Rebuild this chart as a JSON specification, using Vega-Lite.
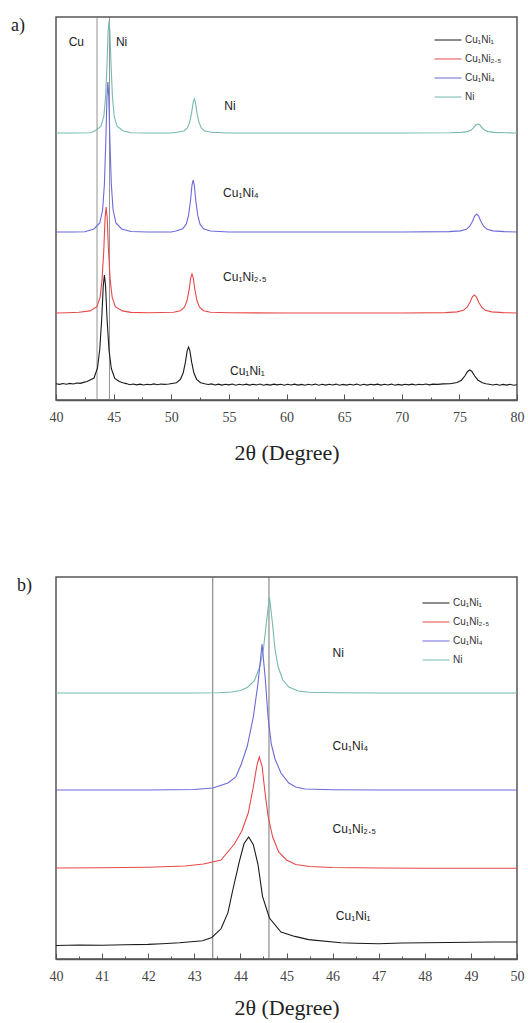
{
"$schema": "https://vega.github.io/schema/vega-lite/v6.json",
"padding": {"left": 10, "top": 15, "right": 6, "bottom": 2},
"background": "white",
"spacing": 111,
"resolve": {"legend": {"color": "independent"}, "scale": {"x": "independent", "y": "independent"}},
"config": {"view": {"stroke": "#555", "strokeWidth": 1.5}, "font": "Liberation Sans"},
"datasets": {
"a_refs": [{"x": 43.56}, {"x": 44.64}],
"b_refs": [{"x": 43.4}, {"x": 44.62}],
"a_text": [
{"x": 41.1, "y": 358, "t": "Cu"}, {"x": 45.2, "y": 358, "t": "Ni"},
{"x": 54.6, "y": 294, "t": "Ni"}, {"x": 54.5, "y": 207, "t": "Cu₁Ni₄"},
{"x": 54.5, "y": 123, "t": "Cu₁Ni₂.₅"}, {"x": 55.1, "y": 29, "t": "Cu₁Ni₁"}],
"b_text": [
{"x": 46.0, "y": 306, "t": "Ni"}, {"x": 46.0, "y": 213, "t": "Cu₁Ni₄"},
{"x": 46.0, "y": 130, "t": "Cu₁Ni₂.₅"}, {"x": 46.07, "y": 43, "t": "Cu₁Ni₁"}],
"a_lines": [
{"s":"Ni","x":40,"y":267},{"s":"Ni","x":41.5,"y":267},{"s":"Ni","x":43,"y":267.2},{"s":"Ni","x":43.4,"y":269.2},{"s":"Ni","x":43.9,"y":273.7},{"s":"Ni","x":44.15,"y":283.8},{"s":"Ni","x":44.3,"y":302.8},{"s":"Ni","x":44.42,"y":334.2},{"s":"Ni","x":44.52,"y":367.8},{"s":"Ni","x":44.6,"y":379},{"s":"Ni","x":44.68,"y":367.8},{"s":"Ni","x":44.78,"y":334.2},{"s":"Ni","x":44.9,"y":302.8},{"s":"Ni","x":45.05,"y":283.8},{"s":"Ni","x":45.3,"y":273.7},{"s":"Ni","x":45.8,"y":269.2},{"s":"Ni","x":46.5,"y":267.3},{"s":"Ni","x":48,"y":267},{"s":"Ni","x":50,"y":267},{"s":"Ni","x":50.5,"y":267.7},{"s":"Ni","x":51.1,"y":269},{"s":"Ni","x":51.4,"y":272.1},{"s":"Ni","x":51.6,"y":277.9},{"s":"Ni","x":51.77,"y":287.4},{"s":"Ni","x":51.9,"y":297.6},{"s":"Ni","x":52.0,"y":301},{"s":"Ni","x":52.1,"y":297.6},{"s":"Ni","x":52.23,"y":287.4},{"s":"Ni","x":52.4,"y":277.9},{"s":"Ni","x":52.6,"y":272.1},{"s":"Ni","x":52.9,"y":269},{"s":"Ni","x":53.5,"y":267.7},{"s":"Ni","x":55,"y":267},{"s":"Ni","x":60,"y":267},{"s":"Ni","x":65,"y":267},{"s":"Ni","x":70,"y":267},{"s":"Ni","x":74.2,"y":267.2},{"s":"Ni","x":75.2,"y":267.6},{"s":"Ni","x":75.7,"y":268.4},{"s":"Ni","x":76.0,"y":269.8},{"s":"Ni","x":76.24,"y":272.3},{"s":"Ni","x":76.44,"y":275.2},{"s":"Ni","x":76.6,"y":276},{"s":"Ni","x":76.76,"y":275.2},{"s":"Ni","x":76.96,"y":272.3},{"s":"Ni","x":77.2,"y":269.8},{"s":"Ni","x":77.5,"y":268.4},{"s":"Ni","x":78.0,"y":267.6},{"s":"Ni","x":79,"y":267.2},{"s":"Ni","x":80,"y":267},
{"s":"Cu₁Ni₄","x":40,"y":168},{"s":"Cu₁Ni₄","x":41.5,"y":168},{"s":"Cu₁Ni₄","x":42.5,"y":168.3},{"s":"Cu₁Ni₄","x":43.3,"y":171},{"s":"Cu₁Ni₄","x":43.8,"y":177},{"s":"Cu₁Ni₄","x":44.05,"y":190.5},{"s":"Cu₁Ni₄","x":44.2,"y":216},{"s":"Cu₁Ni₄","x":44.32,"y":258},{"s":"Cu₁Ni₄","x":44.42,"y":303},{"s":"Cu₁Ni₄","x":44.5,"y":318},{"s":"Cu₁Ni₄","x":44.58,"y":303},{"s":"Cu₁Ni₄","x":44.68,"y":258},{"s":"Cu₁Ni₄","x":44.8,"y":216},{"s":"Cu₁Ni₄","x":44.95,"y":190.5},{"s":"Cu₁Ni₄","x":45.2,"y":177},{"s":"Cu₁Ni₄","x":45.7,"y":171},{"s":"Cu₁Ni₄","x":46.5,"y":168.5},{"s":"Cu₁Ni₄","x":48,"y":168},{"s":"Cu₁Ni₄","x":50,"y":168},{"s":"Cu₁Ni₄","x":50.4,"y":169},{"s":"Cu₁Ni₄","x":51.0,"y":171.1},{"s":"Cu₁Ni₄","x":51.3,"y":175.8},{"s":"Cu₁Ni₄","x":51.5,"y":184.6},{"s":"Cu₁Ni₄","x":51.67,"y":199.2},{"s":"Cu₁Ni₄","x":51.8,"y":214.8},{"s":"Cu₁Ni₄","x":51.9,"y":220},{"s":"Cu₁Ni₄","x":52.0,"y":214.8},{"s":"Cu₁Ni₄","x":52.13,"y":199.2},{"s":"Cu₁Ni₄","x":52.3,"y":184.6},{"s":"Cu₁Ni₄","x":52.5,"y":175.8},{"s":"Cu₁Ni₄","x":52.8,"y":171.1},{"s":"Cu₁Ni₄","x":53.4,"y":169},{"s":"Cu₁Ni₄","x":55,"y":168},{"s":"Cu₁Ni₄","x":60,"y":168},{"s":"Cu₁Ni₄","x":65,"y":168},{"s":"Cu₁Ni₄","x":70,"y":168},{"s":"Cu₁Ni₄","x":74.1,"y":168.4},{"s":"Cu₁Ni₄","x":75.1,"y":169.1},{"s":"Cu₁Ni₄","x":75.6,"y":170.7},{"s":"Cu₁Ni₄","x":75.9,"y":173.8},{"s":"Cu₁Ni₄","x":76.14,"y":178.8},{"s":"Cu₁Ni₄","x":76.34,"y":184.2},{"s":"Cu₁Ni₄","x":76.5,"y":186},{"s":"Cu₁Ni₄","x":76.66,"y":184.2},{"s":"Cu₁Ni₄","x":76.86,"y":178.8},{"s":"Cu₁Ni₄","x":77.1,"y":173.8},{"s":"Cu₁Ni₄","x":77.4,"y":170.7},{"s":"Cu₁Ni₄","x":77.9,"y":169.1},{"s":"Cu₁Ni₄","x":78.9,"y":168.4},{"s":"Cu₁Ni₄","x":80,"y":168},
{"s":"Cu₁Ni₂.₅","x":40,"y":87},{"s":"Cu₁Ni₂.₅","x":41,"y":87.3},{"s":"Cu₁Ni₂.₅","x":42,"y":87.8},{"s":"Cu₁Ni₂.₅","x":42.95,"y":89.1},{"s":"Cu₁Ni₂.₅","x":43.55,"y":93.4},{"s":"Cu₁Ni₂.₅","x":43.83,"y":102.9},{"s":"Cu₁Ni₂.₅","x":44.0,"y":120.9},{"s":"Cu₁Ni₂.₅","x":44.15,"y":150.6},{"s":"Cu₁Ni₂.₅","x":44.26,"y":182.4},{"s":"Cu₁Ni₂.₅","x":44.35,"y":193},{"s":"Cu₁Ni₂.₅","x":44.44,"y":182.4},{"s":"Cu₁Ni₂.₅","x":44.55,"y":150.6},{"s":"Cu₁Ni₂.₅","x":44.7,"y":120.9},{"s":"Cu₁Ni₂.₅","x":44.87,"y":102.9},{"s":"Cu₁Ni₂.₅","x":45.15,"y":93.4},{"s":"Cu₁Ni₂.₅","x":45.75,"y":89.1},{"s":"Cu₁Ni₂.₅","x":46.5,"y":87.6},{"s":"Cu₁Ni₂.₅","x":48,"y":87.2},{"s":"Cu₁Ni₂.₅","x":50.2,"y":87.8},{"s":"Cu₁Ni₂.₅","x":50.8,"y":89.3},{"s":"Cu₁Ni₂.₅","x":51.15,"y":92.9},{"s":"Cu₁Ni₂.₅","x":51.37,"y":99.5},{"s":"Cu₁Ni₂.₅","x":51.55,"y":110.4},{"s":"Cu₁Ni₂.₅","x":51.69,"y":122.1},{"s":"Cu₁Ni₂.₅","x":51.8,"y":126},{"s":"Cu₁Ni₂.₅","x":51.91,"y":122.1},{"s":"Cu₁Ni₂.₅","x":52.05,"y":110.4},{"s":"Cu₁Ni₂.₅","x":52.23,"y":99.5},{"s":"Cu₁Ni₂.₅","x":52.45,"y":92.9},{"s":"Cu₁Ni₂.₅","x":52.8,"y":89.3},{"s":"Cu₁Ni₂.₅","x":53.4,"y":87.8},{"s":"Cu₁Ni₂.₅","x":55,"y":87.2},{"s":"Cu₁Ni₂.₅","x":60,"y":87},{"s":"Cu₁Ni₂.₅","x":65,"y":87},{"s":"Cu₁Ni₂.₅","x":70,"y":87},{"s":"Cu₁Ni₂.₅","x":73.8,"y":87.4},{"s":"Cu₁Ni₂.₅","x":74.8,"y":88.1},{"s":"Cu₁Ni₂.₅","x":75.35,"y":89.7},{"s":"Cu₁Ni₂.₅","x":75.67,"y":92.8},{"s":"Cu₁Ni₂.₅","x":75.92,"y":97.8},{"s":"Cu₁Ni₂.₅","x":76.13,"y":103.2},{"s":"Cu₁Ni₂.₅","x":76.3,"y":105},{"s":"Cu₁Ni₂.₅","x":76.47,"y":103.2},{"s":"Cu₁Ni₂.₅","x":76.68,"y":97.8},{"s":"Cu₁Ni₂.₅","x":76.93,"y":92.8},{"s":"Cu₁Ni₂.₅","x":77.25,"y":89.7},{"s":"Cu₁Ni₂.₅","x":77.8,"y":88.1},{"s":"Cu₁Ni₂.₅","x":78.8,"y":87.4},{"s":"Cu₁Ni₂.₅","x":80,"y":87},
{"s":"Cu₁Ni₁","x":40,"y":16.3},{"s":"Cu₁Ni₁","x":40.3,"y":15.6},{"s":"Cu₁Ni₁","x":40.6,"y":16.5},{"s":"Cu₁Ni₁","x":40.9,"y":15.8},{"s":"Cu₁Ni₁","x":41.2,"y":16.6},{"s":"Cu₁Ni₁","x":41.5,"y":16.0},{"s":"Cu₁Ni₁","x":41.8,"y":17.0},{"s":"Cu₁Ni₁","x":42.1,"y":16.6},{"s":"Cu₁Ni₁","x":42.4,"y":17.6},{"s":"Cu₁Ni₁","x":42.7,"y":18.4},{"s":"Cu₁Ni₁","x":43.3,"y":22},{"s":"Cu₁Ni₁","x":43.6,"y":32},{"s":"Cu₁Ni₁","x":43.8,"y":51},{"s":"Cu₁Ni₁","x":43.97,"y":82},{"s":"Cu₁Ni₁","x":44.1,"y":114},{"s":"Cu₁Ni₁","x":44.2,"y":125},{"s":"Cu₁Ni₁","x":44.3,"y":114},{"s":"Cu₁Ni₁","x":44.43,"y":81},{"s":"Cu₁Ni₁","x":44.6,"y":50},{"s":"Cu₁Ni₁","x":44.8,"y":31.5},{"s":"Cu₁Ni₁","x":45.1,"y":21.6},{"s":"Cu₁Ni₁","x":45.5,"y":18.5},{"s":"Cu₁Ni₁","x":45.8,"y":17.2},{"s":"Cu₁Ni₁","x":46.1,"y":16.4},{"s":"Cu₁Ni₁","x":46.4,"y":15.3},{"s":"Cu₁Ni₁","x":46.7,"y":16.0},{"s":"Cu₁Ni₁","x":47.0,"y":15.1},{"s":"Cu₁Ni₁","x":47.3,"y":15.9},{"s":"Cu₁Ni₁","x":47.6,"y":15.0},{"s":"Cu₁Ni₁","x":47.9,"y":15.8},{"s":"Cu₁Ni₁","x":48.2,"y":15.2},{"s":"Cu₁Ni₁","x":48.5,"y":16.1},{"s":"Cu₁Ni₁","x":48.8,"y":15.3},{"s":"Cu₁Ni₁","x":49.1,"y":16.0},{"s":"Cu₁Ni₁","x":49.4,"y":15.6},{"s":"Cu₁Ni₁","x":49.8,"y":16.0},{"s":"Cu₁Ni₁","x":50.45,"y":17.3},{"s":"Cu₁Ni₁","x":50.8,"y":20.7},{"s":"Cu₁Ni₁","x":51.04,"y":27.2},{"s":"Cu₁Ni₁","x":51.23,"y":37.8},{"s":"Cu₁Ni₁","x":51.38,"y":49.2},{"s":"Cu₁Ni₁","x":51.5,"y":53},{"s":"Cu₁Ni₁","x":51.62,"y":49.2},{"s":"Cu₁Ni₁","x":51.77,"y":37.8},{"s":"Cu₁Ni₁","x":51.96,"y":27.2},{"s":"Cu₁Ni₁","x":52.2,"y":20.7},{"s":"Cu₁Ni₁","x":52.55,"y":17.3},{"s":"Cu₁Ni₁","x":52.9,"y":16.2},{"s":"Cu₁Ni₁","x":53.2,"y":15.5},{"s":"Cu₁Ni₁","x":53.5,"y":16.1},{"s":"Cu₁Ni₁","x":53.8,"y":15.0},{"s":"Cu₁Ni₁","x":54.1,"y":15.9},{"s":"Cu₁Ni₁","x":54.4,"y":14.9},{"s":"Cu₁Ni₁","x":54.7,"y":15.8},{"s":"Cu₁Ni₁","x":55.0,"y":15.1},{"s":"Cu₁Ni₁","x":55.3,"y":16.0},{"s":"Cu₁Ni₁","x":55.6,"y":14.8},{"s":"Cu₁Ni₁","x":55.9,"y":15.7},{"s":"Cu₁Ni₁","x":56.2,"y":15.0},{"s":"Cu₁Ni₁","x":56.5,"y":15.9},{"s":"Cu₁Ni₁","x":56.8,"y":14.9},{"s":"Cu₁Ni₁","x":57.1,"y":15.8},{"s":"Cu₁Ni₁","x":57.4,"y":15.0},{"s":"Cu₁Ni₁","x":57.7,"y":16.0},{"s":"Cu₁Ni₁","x":58.0,"y":14.8},{"s":"Cu₁Ni₁","x":58.3,"y":15.6},{"s":"Cu₁Ni₁","x":58.6,"y":14.9},{"s":"Cu₁Ni₁","x":58.9,"y":15.9},{"s":"Cu₁Ni₁","x":59.2,"y":15.1},{"s":"Cu₁Ni₁","x":59.5,"y":15.8},{"s":"Cu₁Ni₁","x":59.8,"y":14.8},{"s":"Cu₁Ni₁","x":60.1,"y":15.7},{"s":"Cu₁Ni₁","x":60.4,"y":15.0},{"s":"Cu₁Ni₁","x":60.7,"y":15.9},{"s":"Cu₁Ni₁","x":61.0,"y":14.9},{"s":"Cu₁Ni₁","x":61.3,"y":15.6},{"s":"Cu₁Ni₁","x":61.6,"y":14.7},{"s":"Cu₁Ni₁","x":61.9,"y":15.8},{"s":"Cu₁Ni₁","x":62.2,"y":15.0},{"s":"Cu₁Ni₁","x":62.5,"y":15.9},{"s":"Cu₁Ni₁","x":62.8,"y":14.8},{"s":"Cu₁Ni₁","x":63.1,"y":15.7},{"s":"Cu₁Ni₁","x":63.4,"y":14.9},{"s":"Cu₁Ni₁","x":63.7,"y":15.8},{"s":"Cu₁Ni₁","x":64.0,"y":15.0},{"s":"Cu₁Ni₁","x":64.3,"y":15.9},{"s":"Cu₁Ni₁","x":64.6,"y":14.8},{"s":"Cu₁Ni₁","x":64.9,"y":15.6},{"s":"Cu₁Ni₁","x":65.2,"y":14.9},{"s":"Cu₁Ni₁","x":65.5,"y":15.8},{"s":"Cu₁Ni₁","x":65.8,"y":15.0},{"s":"Cu₁Ni₁","x":66.1,"y":15.9},{"s":"Cu₁Ni₁","x":66.4,"y":14.8},{"s":"Cu₁Ni₁","x":66.7,"y":15.7},{"s":"Cu₁Ni₁","x":67.0,"y":14.9},{"s":"Cu₁Ni₁","x":67.3,"y":15.8},{"s":"Cu₁Ni₁","x":67.6,"y":15.1},{"s":"Cu₁Ni₁","x":67.9,"y":15.9},{"s":"Cu₁Ni₁","x":68.2,"y":14.9},{"s":"Cu₁Ni₁","x":68.5,"y":15.7},{"s":"Cu₁Ni₁","x":68.8,"y":15.0},{"s":"Cu₁Ni₁","x":69.1,"y":15.9},{"s":"Cu₁Ni₁","x":69.4,"y":14.8},{"s":"Cu₁Ni₁","x":69.7,"y":15.6},{"s":"Cu₁Ni₁","x":70.0,"y":14.9},{"s":"Cu₁Ni₁","x":70.3,"y":15.8},{"s":"Cu₁Ni₁","x":70.6,"y":15.1},{"s":"Cu₁Ni₁","x":70.9,"y":15.9},{"s":"Cu₁Ni₁","x":71.2,"y":15.0},{"s":"Cu₁Ni₁","x":71.5,"y":15.8},{"s":"Cu₁Ni₁","x":71.8,"y":15.2},{"s":"Cu₁Ni₁","x":72.1,"y":16.0},{"s":"Cu₁Ni₁","x":72.4,"y":15.1},{"s":"Cu₁Ni₁","x":72.7,"y":15.9},{"s":"Cu₁Ni₁","x":73.1,"y":15.6},{"s":"Cu₁Ni₁","x":73.6,"y":16.1},{"s":"Cu₁Ni₁","x":74.2,"y":16.2},{"s":"Cu₁Ni₁","x":74.8,"y":17.5},{"s":"Cu₁Ni₁","x":75.18,"y":19.8},{"s":"Cu₁Ni₁","x":75.47,"y":24},{"s":"Cu₁Ni₁","x":75.71,"y":28.5},{"s":"Cu₁Ni₁","x":75.9,"y":30},{"s":"Cu₁Ni₁","x":76.09,"y":28.5},{"s":"Cu₁Ni₁","x":76.33,"y":24},{"s":"Cu₁Ni₁","x":76.62,"y":19.8},{"s":"Cu₁Ni₁","x":77.0,"y":17.3},{"s":"Cu₁Ni₁","x":77.3,"y":16.2},{"s":"Cu₁Ni₁","x":77.6,"y":15.7},{"s":"Cu₁Ni₁","x":77.9,"y":15.0},{"s":"Cu₁Ni₁","x":78.2,"y":15.8},{"s":"Cu₁Ni₁","x":78.5,"y":14.8},{"s":"Cu₁Ni₁","x":78.8,"y":15.6},{"s":"Cu₁Ni₁","x":79.1,"y":14.9},{"s":"Cu₁Ni₁","x":79.4,"y":15.7},{"s":"Cu₁Ni₁","x":79.7,"y":14.8},{"s":"Cu₁Ni₁","x":80,"y":15.3}
],
"b_lines": [
{"s":"Ni","x":40,"y":266},{"s":"Ni","x":41,"y":266},{"s":"Ni","x":42,"y":266},{"s":"Ni","x":43,"y":266},{"s":"Ni","x":43.5,"y":266.3},{"s":"Ni","x":43.8,"y":267},{"s":"Ni","x":44.0,"y":268.5},{"s":"Ni","x":44.15,"y":271.5},{"s":"Ni","x":44.3,"y":278},{"s":"Ni","x":44.42,"y":292},{"s":"Ni","x":44.5,"y":310},{"s":"Ni","x":44.56,"y":335},{"s":"Ni","x":44.63,"y":362},{"s":"Ni","x":44.69,"y":338},{"s":"Ni","x":44.75,"y":310},{"s":"Ni","x":44.82,"y":292},{"s":"Ni","x":44.92,"y":279},{"s":"Ni","x":45.05,"y":272},{"s":"Ni","x":45.25,"y":268},{"s":"Ni","x":45.5,"y":266.7},{"s":"Ni","x":46,"y":266.2},{"s":"Ni","x":47,"y":266},{"s":"Ni","x":48,"y":266},{"s":"Ni","x":49,"y":266},{"s":"Ni","x":50,"y":266},
{"s":"Cu₁Ni₄","x":40,"y":169},{"s":"Cu₁Ni₄","x":41,"y":169},{"s":"Cu₁Ni₄","x":42,"y":169},{"s":"Cu₁Ni₄","x":43,"y":169.5},{"s":"Cu₁Ni₄","x":43.4,"y":171},{"s":"Cu₁Ni₄","x":43.73,"y":176},{"s":"Cu₁Ni₄","x":43.9,"y":182},{"s":"Cu₁Ni₄","x":44.02,"y":195},{"s":"Cu₁Ni₄","x":44.15,"y":213},{"s":"Cu₁Ni₄","x":44.28,"y":242},{"s":"Cu₁Ni₄","x":44.38,"y":275},{"s":"Cu₁Ni₄","x":44.47,"y":315},{"s":"Cu₁Ni₄","x":44.54,"y":280},{"s":"Cu₁Ni₄","x":44.6,"y":242},{"s":"Cu₁Ni₄","x":44.67,"y":215},{"s":"Cu₁Ni₄","x":44.75,"y":200},{"s":"Cu₁Ni₄","x":44.88,"y":186},{"s":"Cu₁Ni₄","x":45.05,"y":176},{"s":"Cu₁Ni₄","x":45.2,"y":172},{"s":"Cu₁Ni₄","x":45.4,"y":170},{"s":"Cu₁Ni₄","x":46,"y":169.3},{"s":"Cu₁Ni₄","x":47,"y":169},{"s":"Cu₁Ni₄","x":48,"y":169},{"s":"Cu₁Ni₄","x":49,"y":169},{"s":"Cu₁Ni₄","x":50,"y":169},
{"s":"Cu₁Ni₂.₅","x":40,"y":91},{"s":"Cu₁Ni₂.₅","x":41,"y":91.2},{"s":"Cu₁Ni₂.₅","x":42,"y":91.8},{"s":"Cu₁Ni₂.₅","x":42.8,"y":93},{"s":"Cu₁Ni₂.₅","x":43.2,"y":95},{"s":"Cu₁Ni₂.₅","x":43.58,"y":99},{"s":"Cu₁Ni₂.₅","x":43.87,"y":115},{"s":"Cu₁Ni₂.₅","x":44.03,"y":128},{"s":"Cu₁Ni₂.₅","x":44.17,"y":146},{"s":"Cu₁Ni₂.₅","x":44.28,"y":172},{"s":"Cu₁Ni₂.₅","x":44.36,"y":194},{"s":"Cu₁Ni₂.₅","x":44.41,"y":202},{"s":"Cu₁Ni₂.₅","x":44.47,"y":193},{"s":"Cu₁Ni₂.₅","x":44.53,"y":168},{"s":"Cu₁Ni₂.₅","x":44.6,"y":143},{"s":"Cu₁Ni₂.₅","x":44.7,"y":122},{"s":"Cu₁Ni₂.₅","x":44.83,"y":107},{"s":"Cu₁Ni₂.₅","x":45.0,"y":99},{"s":"Cu₁Ni₂.₅","x":45.2,"y":94.5},{"s":"Cu₁Ni₂.₅","x":45.5,"y":92.5},{"s":"Cu₁Ni₂.₅","x":46,"y":91.5},{"s":"Cu₁Ni₂.₅","x":47,"y":91},{"s":"Cu₁Ni₂.₅","x":48,"y":90.8},{"s":"Cu₁Ni₂.₅","x":49,"y":90.8},{"s":"Cu₁Ni₂.₅","x":50,"y":90.8},
{"s":"Cu₁Ni₁","x":40,"y":13.5},{"s":"Cu₁Ni₁","x":40.5,"y":14},{"s":"Cu₁Ni₁","x":41,"y":13.8},{"s":"Cu₁Ni₁","x":41.5,"y":14.3},{"s":"Cu₁Ni₁","x":42,"y":14.6},{"s":"Cu₁Ni₁","x":42.3,"y":15.2},{"s":"Cu₁Ni₁","x":42.68,"y":16.2},{"s":"Cu₁Ni₁","x":43.18,"y":18.3},{"s":"Cu₁Ni₁","x":43.38,"y":21.6},{"s":"Cu₁Ni₁","x":43.58,"y":30.2},{"s":"Cu₁Ni₁","x":43.73,"y":46.4},{"s":"Cu₁Ni₁","x":43.83,"y":68},{"s":"Cu₁Ni₁","x":43.98,"y":98.2},{"s":"Cu₁Ni₁","x":44.08,"y":115.5},{"s":"Cu₁Ni₁","x":44.18,"y":122},{"s":"Cu₁Ni₁","x":44.28,"y":114.4},{"s":"Cu₁Ni₁","x":44.38,"y":95},{"s":"Cu₁Ni₁","x":44.48,"y":62.6},{"s":"Cu₁Ni₁","x":44.63,"y":41},{"s":"Cu₁Ni₁","x":44.88,"y":27},{"s":"Cu₁Ni₁","x":45.18,"y":22.6},{"s":"Cu₁Ni₁","x":45.48,"y":19.4},{"s":"Cu₁Ni₁","x":46.18,"y":16.2},{"s":"Cu₁Ni₁","x":46.5,"y":15.8},{"s":"Cu₁Ni₁","x":47,"y":15.2},{"s":"Cu₁Ni₁","x":47.5,"y":16},{"s":"Cu₁Ni₁","x":48,"y":16.3},{"s":"Cu₁Ni₁","x":48.5,"y":16.5},{"s":"Cu₁Ni₁","x":49,"y":16.8},{"s":"Cu₁Ni₁","x":49.5,"y":17},{"s":"Cu₁Ni₁","x":50,"y":17}
]
},
"vconcat": [
{
"width": 461, "height": 383,
"title": {"text": "a)", "anchor": "start", "frame": "group", "dx": -45, "dy": 32, "offset": 0, "baseline": "alphabetic", "font": "Liberation Serif", "fontSize": 18, "fontWeight": "normal", "color": "#222"},
"encoding": {"x": {"field": "x", "type": "quantitative", "scale": {"domain": [40, 80], "nice": false, "zero": false},
"axis": {"title": "2θ (Degree)", "titleFont": "Liberation Serif", "titleFontSize": 22, "titleFontWeight": "normal", "titleColor": "#222", "titlePadding": 15,
"values": [40,42.5,45,47.5,50,52.5,55,57.5,60,62.5,65,67.5,70,72.5,75,77.5,80],
"labelExpr": "datum.value % 5 === 0 ? '' + datum.value : ''", "labelFont": "Liberation Serif", "labelFontSize": 14, "labelColor": "#444", "labelPadding": 16, "labelFlush": false, "labelOverlap": false,
"tickSize": {"condition": {"test": "datum.value % 5 === 0", "value": -6}, "value": -3}, "tickColor": "#555", "domainColor": "#555", "domainWidth": 1.5, "grid": false}}},
"layer": [
{"data": {"name": "a_refs"}, "mark": {"type": "rule", "color": "#777", "strokeWidth": 0.8}, "encoding": {}},
{"data": {"name": "a_lines"}, "mark": {"type": "line", "strokeWidth": 1.1, "clip": true},
"encoding": {"y": {"field": "y", "type": "quantitative", "scale": {"domain": [0, 383], "nice": false}, "axis": null},
"color": {"field": "s", "type": "nominal", "scale": {"domain": ["Cu₁Ni₁", "Cu₁Ni₂.₅", "Cu₁Ni₄", "Ni"], "range": ["#1a1a1a", "#e8494a", "#6a6ad8", "#77b9b0"]},
"legend": {"orient": "none", "legendX": 378, "legendY": 9, "title": null, "symbolType": "stroke", "symbolSize": 729, "symbolStrokeWidth": 1, "labelFont": "Liberation Sans", "labelFontSize": 10, "labelColor": "#333", "rowPadding": 0, "labelOffset": 3}}}},
{"data": {"name": "a_text"}, "mark": {"type": "text", "align": "left", "baseline": "middle", "font": "Liberation Sans", "fontSize": 12, "color": "#222"},
"encoding": {"y": {"field": "y", "type": "quantitative", "scale": {"domain": [0, 383], "nice": false}, "axis": null}, "text": {"field": "t"}}}
]
},
{
"width": 461, "height": 382,
"title": {"text": "b)", "anchor": "start", "frame": "group", "dx": -39, "dy": 32, "offset": 0, "baseline": "alphabetic", "font": "Liberation Serif", "fontSize": 18, "fontWeight": "normal", "color": "#222"},
"encoding": {"x": {"field": "x", "type": "quantitative", "scale": {"domain": [40, 50], "nice": false, "zero": false},
"axis": {"title": "2θ (Degree)", "titleFont": "Liberation Serif", "titleFontSize": 22, "titleFontWeight": "normal", "titleColor": "#222", "titlePadding": 11,
"values": [40,40.5,41,41.5,42,42.5,43,43.5,44,44.5,45,45.5,46,46.5,47,47.5,48,48.5,49,49.5,50],
"labelExpr": "datum.value % 1 === 0 ? '' + datum.value : ''", "labelFont": "Liberation Serif", "labelFontSize": 14, "labelColor": "#444", "labelPadding": 16, "labelFlush": false, "labelOverlap": false,
"tickSize": {"condition": {"test": "datum.value % 1 === 0", "value": -6}, "value": -3}, "tickColor": "#555", "domainColor": "#555", "domainWidth": 1.5, "grid": false}}},
"layer": [
{"data": {"name": "b_refs"}, "mark": {"type": "rule", "color": "#666", "strokeWidth": 0.9}, "encoding": {}},
{"data": {"name": "b_lines"}, "mark": {"type": "line", "strokeWidth": 1.1, "clip": true},
"encoding": {"y": {"field": "y", "type": "quantitative", "scale": {"domain": [0, 382], "nice": false}, "axis": null},
"color": {"field": "s", "type": "nominal", "scale": {"domain": ["Cu₁Ni₁", "Cu₁Ni₂.₅", "Cu₁Ni₄", "Ni"], "range": ["#1a1a1a", "#e8494a", "#6a6ad8", "#77b9b0"]},
"legend": {"orient": "none", "legendX": 366, "legendY": 12, "title": null, "symbolType": "stroke", "symbolSize": 729, "symbolStrokeWidth": 1, "labelFont": "Liberation Sans", "labelFontSize": 10, "labelColor": "#333", "rowPadding": 0, "labelOffset": 3}}}},
{"data": {"name": "b_text"}, "mark": {"type": "text", "align": "left", "baseline": "middle", "font": "Liberation Sans", "fontSize": 12, "color": "#222"},
"encoding": {"y": {"field": "y", "type": "quantitative", "scale": {"domain": [0, 382], "nice": false}, "axis": null}, "text": {"field": "t"}}}
]
}
]
}
